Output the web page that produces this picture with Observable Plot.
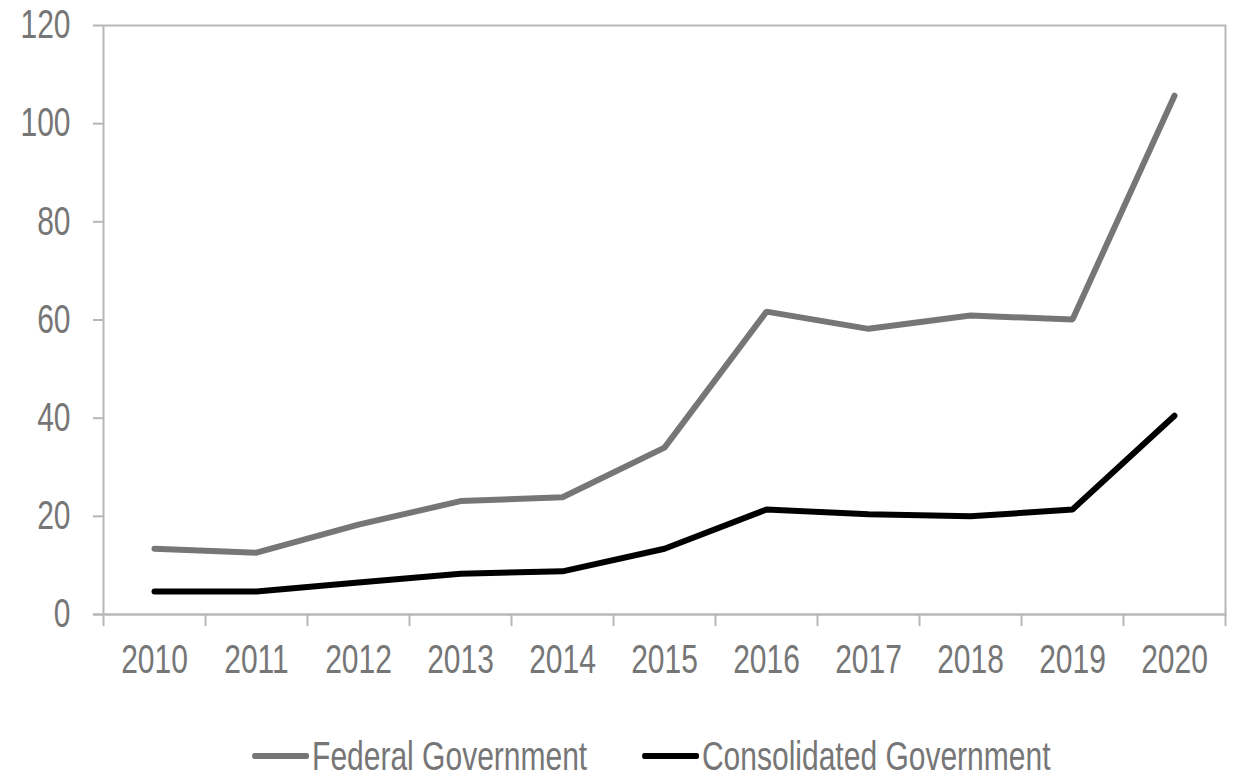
<!DOCTYPE html>
<html>
<head>
<meta charset="utf-8">
<script src="https://cdn.jsdelivr.net/npm/d3@7"></script>
<script src="https://cdn.jsdelivr.net/npm/@observablehq/plot@0.6"></script>
<style>
  html, body { margin: 0; padding: 0; background: #ffffff; }
  body { width: 1237px; height: 777px; overflow: hidden; font-family: "Liberation Sans", Arial, sans-serif; }
  #legendWrap { margin-top: 16px; height: 40px; padding-left: 66px; text-align: center; }
  #legend { display: inline-flex; align-items: center; height: 40px; color: #767676; font-size: 40px; transform: scaleX(0.75); transform-origin: center; white-space: nowrap; }
  .item { display: inline-flex; align-items: center; }
  .swatch { display: inline-block; width: 76px; height: 6px; border-radius: 3px; margin-right: 4px; }
  .gap { display: inline-block; width: 73px; }
</style>
</head>
<body>
<div id="chart"></div>
<div id="legendWrap"><div id="legend"></div></div>
<script>
const years = [2010, 2011, 2012, 2013, 2014, 2015, 2016, 2017, 2018, 2019, 2020];
const federal = [13.4, 12.6, 18.3, 23.1, 23.9, 34.0, 61.7, 58.2, 60.9, 60.1, 105.7];
const consolidated = [4.7, 4.7, 6.5, 8.3, 8.8, 13.4, 21.4, 20.4, 20.0, 21.4, 40.5];
const seriesNames = ["Federal Government", "Consolidated Government"];
const seriesColors = ["#767676", "#000000"];
const yTicks = [0, 20, 40, 60, 80, 100, 120];

const data = [];
years.forEach((y, i) => {
  data.push({year: y, value: federal[i], series: seriesNames[0]});
  data.push({year: y, value: consolidated[i], series: seriesNames[1]});
});
const boundaries = years.map(y => y - 0.5).concat([years[years.length - 1] + 0.5]);

const axisColor = "#b7b7b7";
const textColor = "#767676";

const plot = Plot.plot({
  width: 1237,
  height: 720,
  marginTop: 25,
  marginBottom: 106,
  marginLeft: 103,
  marginRight: 12,
  style: {fontFamily: '"Liberation Sans", Arial, sans-serif', fontSize: "40px", color: textColor, background: "#ffffff"},
  x: {domain: [boundaries[0], boundaries[boundaries.length - 1]], axis: null},
  y: {domain: [0, 120], axis: null},
  color: {domain: seriesNames, range: seriesColors},
  marks: [
    Plot.frame({stroke: axisColor, strokeWidth: 2}),
    Plot.axisY({ticks: yTicks, label: null, tickSize: 10, tickPadding: 23, stroke: axisColor, strokeWidth: 2, fill: textColor, fontSize: 40}),
    Plot.axisX({ticks: boundaries, label: null, tickSize: 12, tickFormat: () => "", stroke: axisColor, strokeWidth: 2}),
    Plot.axisX({ticks: years, label: null, tickSize: 0, tickPadding: 30, tickFormat: d => String(d), fill: textColor, fontSize: 40}),
    Plot.ruleY([0], {x1: boundaries[0] - 0.1, x2: boundaries[boundaries.length - 1], stroke: axisColor, strokeWidth: 2, clip: false}),
    Plot.line(data, {x: "year", y: "value", z: "series", stroke: "series", strokeWidth: 6, strokeLinecap: "round", strokeLinejoin: "miter"})
  ]
});
// emulate a narrow typeface by condensing each label horizontally around its anchor
plot.querySelectorAll("text").forEach(t => {
  const tr = t.getAttribute("transform") || "";
  if (tr) t.setAttribute("transform", tr + " scale(0.75,1)");
  else {
    const x = +(t.getAttribute("x") || 0);
    t.setAttribute("transform", `translate(${x},0) scale(0.75,1) translate(${-x},0)`);
  }
});
document.getElementById("chart").appendChild(plot);

const legend = document.getElementById("legend");
seriesNames.forEach((name, i) => {
  if (i > 0) { const g = document.createElement("span"); g.className = "gap"; legend.appendChild(g); }
  const item = document.createElement("span");
  item.className = "item";
  const sw = document.createElement("span");
  sw.className = "swatch";
  sw.style.background = seriesColors[i];
  const label = document.createElement("span");
  label.textContent = name;
  item.appendChild(sw);
  item.appendChild(label);
  legend.appendChild(item);
});
</script>
</body>
</html>
